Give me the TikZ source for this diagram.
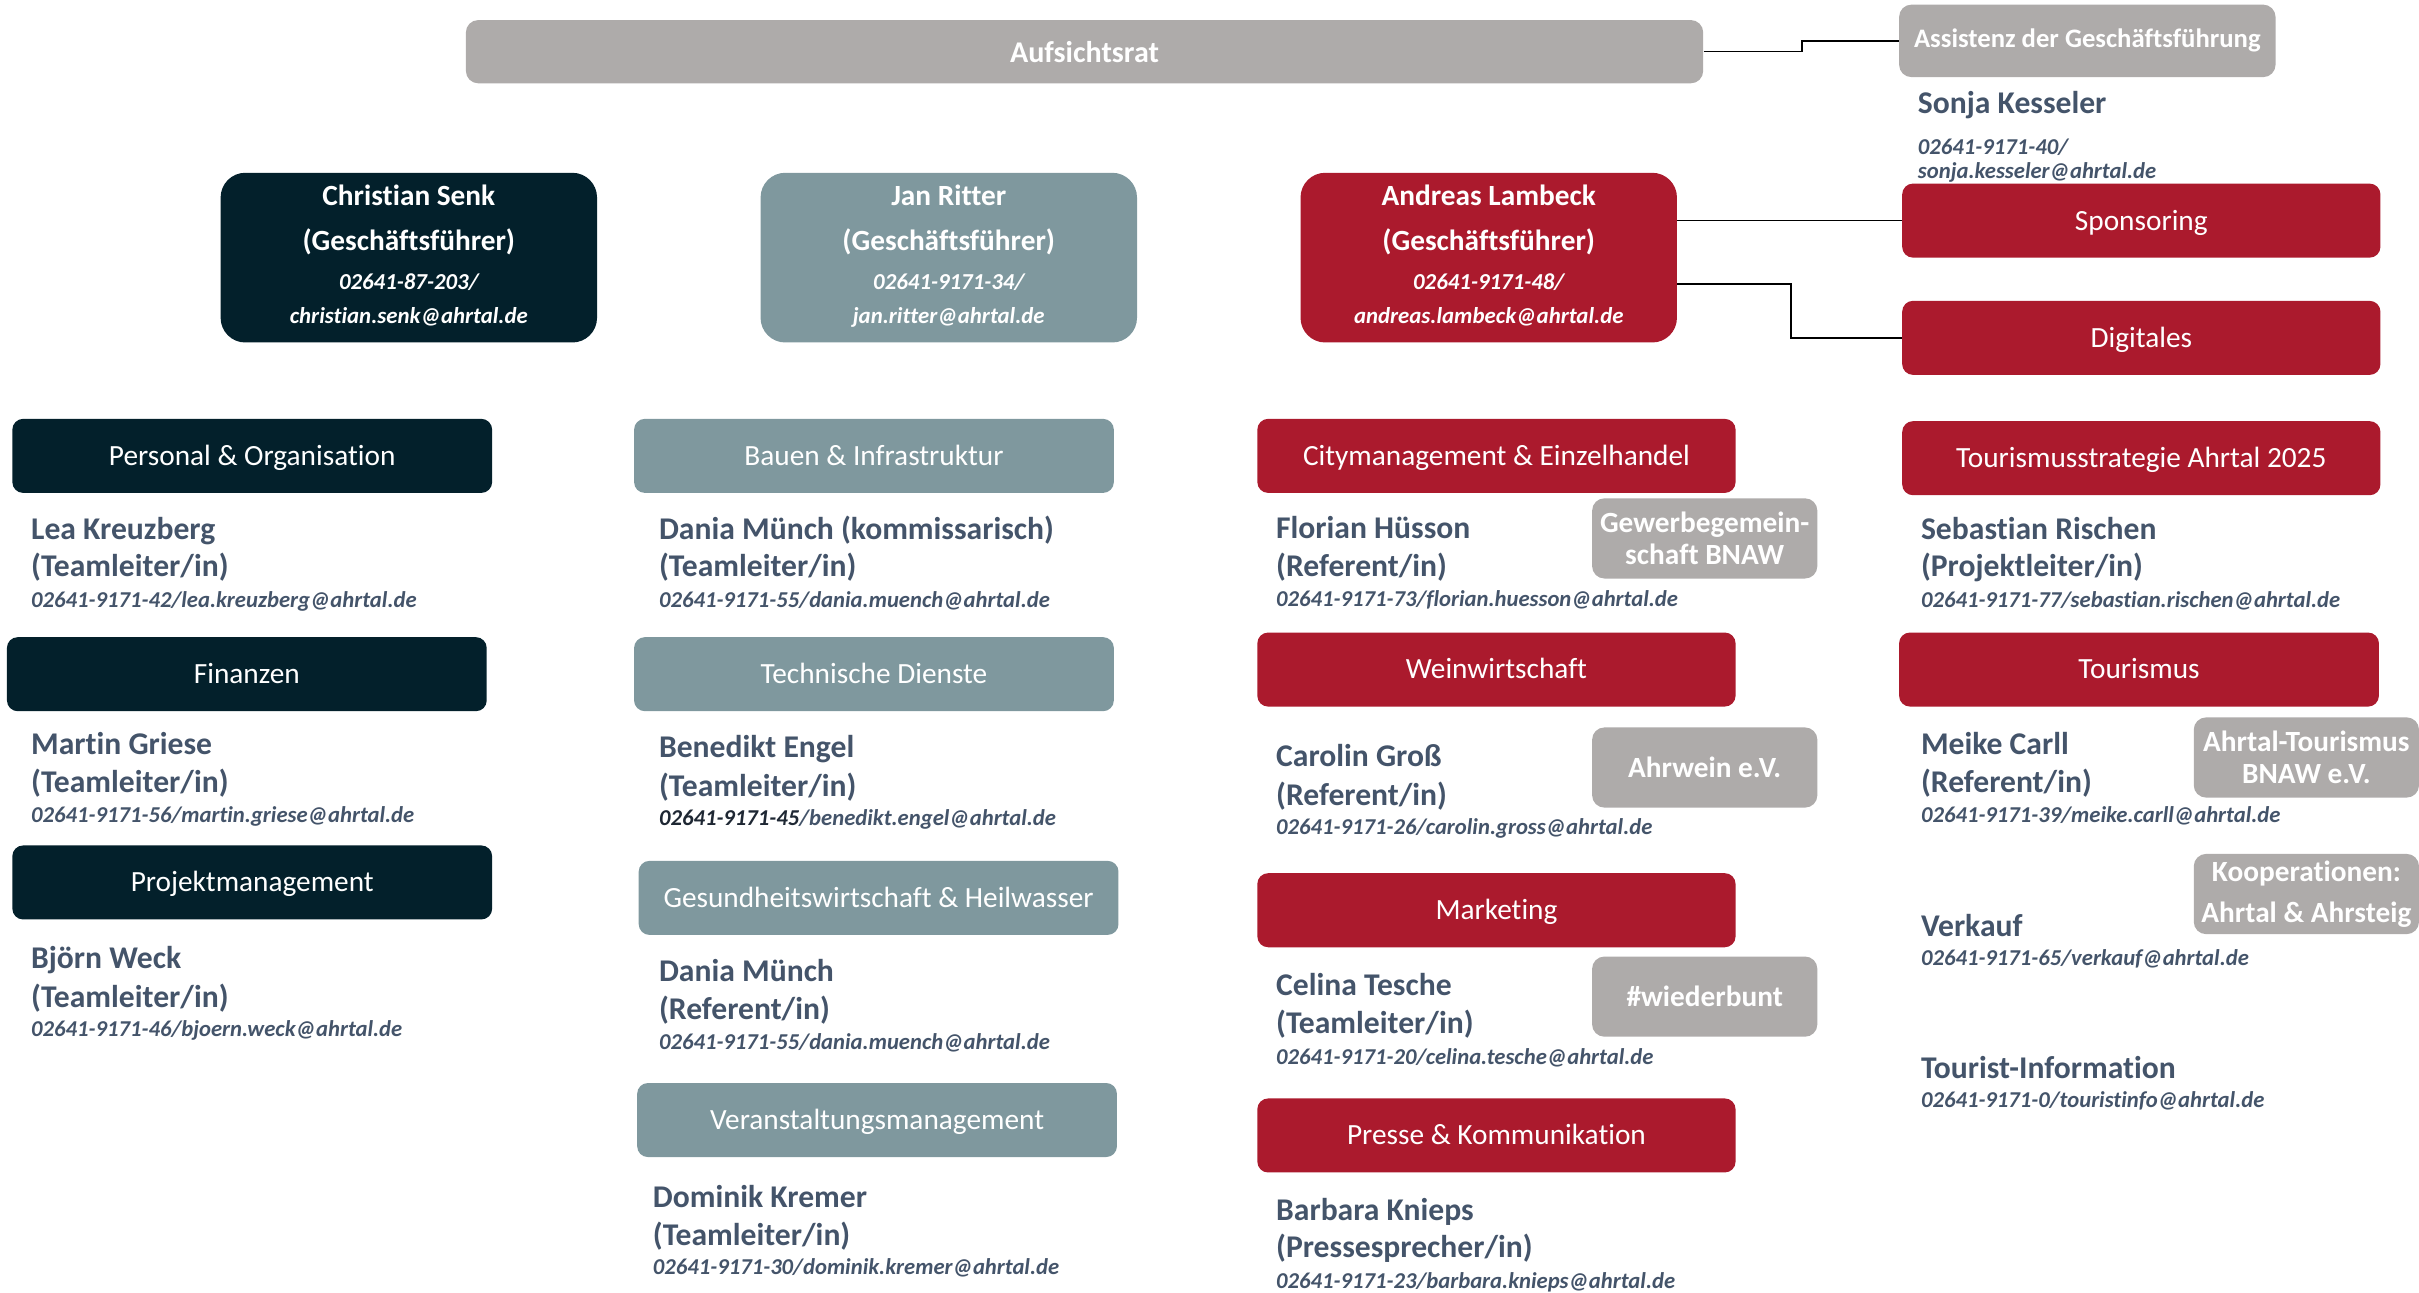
\documentclass[tikz,border=0pt]{standalone}
\usepackage{fontspec}
\setmainfont{Carlito}[Ligatures=NoCommon]
\definecolor{cnavy}{HTML}{03202B}
\definecolor{cteal}{HTML}{7F989E}
\definecolor{cred}{HTML}{AB1A2D}
\definecolor{cgray}{HTML}{AEABAA}
\definecolor{cslate}{HTML}{44546A}
\definecolor{cdark}{HTML}{1E2733}
\begin{document}
\begin{tikzpicture}[x=1pt,y=-1pt,
  dbox/.style={rounded corners=7pt, minimum width=311pt, minimum height=48pt, inner sep=0pt, text=white, text height=16pt, text depth=3.8pt, font=\fontsize{19}{22}\selectfont},
  bossbox/.style={rounded corners=16pt, minimum width=244pt, minimum height=110pt, inner sep=0pt},
  bosstxt/.style={anchor=base, inner sep=0pt, text=white, font=\bfseries\fontsize{19}{22}\selectfont},
  bossmail/.style={anchor=base, inner sep=0pt, text=white, font=\bfseries\itshape\fontsize{14.8}{18}\selectfont},
  gbox/.style={rounded corners=8pt, fill=cgray, minimum width=146pt, minimum height=52pt, inner sep=0pt, text=white, align=center, font=\bfseries\fontsize{19}{20.5}\selectfont},
  pname/.style={anchor=base west, inner sep=0pt, text=cslate, font=\bfseries\fontsize{20.5}{24}\selectfont},
  pmail/.style={anchor=base west, inner sep=0pt, text=cslate, font=\bfseries\itshape\fontsize{14.7}{18}\selectfont},
  conn/.style={draw=black, line width=0.9pt}
]
\useasboundingbox (0,0) rectangle (1568,838);

% --- top level
\node[rounded corners=8pt, fill=cgray, minimum width=802pt, minimum height=41pt, inner sep=0pt, text=white, font=\bfseries\fontsize{19.5}{22}\selectfont] (auf) at (703,33.5) {Aufsichtsrat};
\node[rounded corners=8pt, fill=cgray, minimum width=244pt, minimum height=47pt, inner sep=0pt, text=white, font=\bfseries\fontsize{17.3}{20}\selectfont] (assist) at (1353,26.5) {Assistenz der Geschäftsführung};
\coordinate (m1) at (1168,0);
\draw[conn] (auf.east) -- (auf.east -| m1) -- (assist.west -| m1) -- (assist.west);

\node[pname] (sk) at (1243,73.5) {Sonja Kesseler};
\node[pmail] (skp) at (1243,100) {02641-9171-40/};
\node[pmail] (skm) at (1243,116) {sonja.kesseler@ahrtal.de};

% --- managing directors
\node[bossbox, fill=cnavy] (cs) at (265,167) {};
\node[bosstxt] (cs1) at (265,133.5) {Christian Senk};
\node[bosstxt] (cs2) at (265,162.5) {(Geschäftsführer)};
\node[bossmail] (cs3) at (265,187.5) {02641-87-203/};
\node[bossmail] (cs4) at (265,209.5) {christian.senk@ahrtal.de};

\node[bossbox, fill=cteal] (jr) at (615,167) {};
\node[bosstxt] (jr1) at (615,133.5) {Jan Ritter};
\node[bosstxt] (jr2) at (615,162.5) {(Geschäftsführer)};
\node[bossmail] (jr3) at (615,187.5) {02641-9171-34/};
\node[bossmail] (jr4) at (615,209.5) {jan.ritter@ahrtal.de};

\node[bossbox, fill=cred] (al) at (965,167) {};
\node[bosstxt] (al1) at (965,133.5) {Andreas Lambeck};
\node[bosstxt] (al2) at (965,162.5) {(Geschäftsführer)};
\node[bossmail] (al3) at (965,187.5) {02641-9171-48/};
\node[bossmail] (al4) at (965,209.5) {andreas.lambeck@ahrtal.de};

\node[dbox, fill=cred, minimum width=310pt] (spo) at (1388,143) {Sponsoring};
\node[dbox, fill=cred, minimum width=310pt] (dig) at (1388,219) {Digitales};
\draw[conn] (spo.west -| al.east) -- (spo.west);
\coordinate (m2) at (1161,184);
\draw[conn] (m2 -| al.east) -- (m2) -- (m2 |- dig.west) -- (dig.west);

% --- column 1
\node[dbox, fill=cnavy] (po) at (163.5,295.5) {Personal \& Organisation};
\node[pname] (lk1) at (20,350) {Lea Kreuzberg};
\node[pname] (lk2) at (20,374) {(Teamleiter/in)};
\node[pmail] (lk3) at (20,394) {02641-9171-42/lea.kreuzberg@ahrtal.de};

\node[dbox, fill=cnavy] (fin) at (160,437) {Finanzen};
\node[pname] (mg1) at (20,489) {Martin Griese};
\node[pname] (mg2) at (20,514) {(Teamleiter/in)};
\node[pmail] (mg3) at (20,533) {02641-9171-56/martin.griese@ahrtal.de};

\node[dbox, fill=cnavy] (pm) at (163.5,572) {Projektmanagement};
\node[pname] (bw1) at (20,628) {Björn Weck};
\node[pname] (bw2) at (20,653) {(Teamleiter/in)};
\node[pmail] (bw3) at (20,672) {02641-9171-46/bjoern.weck@ahrtal.de};

% --- column 2
\node[dbox, fill=cteal] (bi) at (566.5,295.5) {Bauen \& Infrastruktur};
\node[pname] (dm1) at (427,350) {Dania Münch (kommissarisch)};
\node[pname] (dm2) at (427,374) {(Teamleiter/in)};
\node[pmail] (dm3) at (427,394) {02641-9171-55/dania.muench@ahrtal.de};

\node[dbox, fill=cteal] (td) at (566.5,437) {Technische Dienste};
\node[pname] (be1) at (427,491) {Benedikt Engel};
\node[pname] (be2) at (427,516) {(Teamleiter/in)};
\node[pmail] (be3) at (427,535) {{\color{cdark}02641-9171-45}/benedikt.engel@ahrtal.de};

\node[dbox, fill=cteal] (gh) at (569.5,582) {Gesundheitswirtschaft \& Heilwasser};
\node[pname] (dr1) at (427,636) {Dania Münch};
\node[pname] (dr2) at (427,661) {(Referent/in)};
\node[pmail] (dr3) at (427,680) {02641-9171-55/dania.muench@ahrtal.de};

\node[dbox, fill=cteal] (vm) at (568.5,726) {Veranstaltungsmanagement};
\node[pname] (dk1) at (423,783) {Dominik Kremer};
\node[pname] (dk2) at (423,807) {(Teamleiter/in)};
\node[pmail] (dk3) at (423,826) {02641-9171-30/dominik.kremer@ahrtal.de};

% --- column 3
\node[dbox, fill=cred, minimum width=310pt] (ce) at (970,295.5) {Citymanagement \& Einzelhandel};
\node[pname] (fh1) at (827,349) {Florian Hüsson};
\node[pname] (fh2) at (827,374) {(Referent/in)};
\node[pmail] (fh3) at (827,393) {02641-9171-73/florian.huesson@ahrtal.de};
\node[gbox] (gw) at (1105,349) {Gewerbegemein-\\schaft BNAW};

\node[dbox, fill=cred, minimum width=310pt] (ww) at (970,434) {Weinwirtschaft};
\node[pname] (cg1) at (827,497) {Carolin Groß};
\node[pname] (cg2) at (827,522) {(Referent/in)};
\node[pmail] (cg3) at (827,541) {02641-9171-26/carolin.gross@ahrtal.de};
\node[gbox] (aw) at (1105,497.5) {Ahrwein e.V.};

\node[dbox, fill=cred, minimum width=310pt] (mk) at (970,590) {Marketing};
\node[pname] (ct1) at (827,645) {Celina Tesche};
\node[pname] (ct2) at (827,670) {(Teamleiter/in)};
\node[pmail] (ct3) at (827,690) {02641-9171-20/celina.tesche@ahrtal.de};
\node[gbox] (wb) at (1105,646) {\#wiederbunt};

\node[dbox, fill=cred, minimum width=310pt] (pk) at (970,736) {Presse \& Kommunikation};
\node[pname] (bk1) at (827,791) {Barbara Knieps};
\node[pname] (bk2) at (827,815) {(Pressesprecher/in)};
\node[pmail] (bk3) at (827,835) {02641-9171-23/barbara.knieps@ahrtal.de};

% --- column 4
\node[dbox, fill=cred, minimum width=310pt] (ts) at (1388,297) {Tourismusstrategie Ahrtal 2025};
\node[pname] (sr1) at (1245,350) {Sebastian Rischen};
\node[pname] (sr2) at (1245,374) {(Projektleiter/in)};
\node[pmail] (sr3) at (1245,394) {02641-9171-77/sebastian.rischen@ahrtal.de};

\node[dbox, fill=cred] (tm) at (1386.5,434) {Tourismus};
\node[pname] (mc1) at (1245,489) {Meike Carll};
\node[pname] (mc2) at (1245,514) {(Referent/in)};
\node[pmail] (mc3) at (1245,533) {02641-9171-39/meike.carll@ahrtal.de};
\node[gbox] (at) at (1495,491) {Ahrtal-Tourismus\\BNAW e.V.};

\node[gbox, font=\bfseries\fontsize{19}{27}\selectfont] (ko) at (1495,579.5) {Kooperationen:\\Ahrtal \& Ahrsteig};
\node[pname] (vk1) at (1245,607) {Verkauf};
\node[pmail] (vk2) at (1245,626) {02641-9171-65/verkauf@ahrtal.de};

\node[pname] (ti1) at (1245,699) {Tourist-Information};
\node[pmail] (ti2) at (1245,718) {02641-9171-0/touristinfo@ahrtal.de};
\end{tikzpicture}
\end{document}
